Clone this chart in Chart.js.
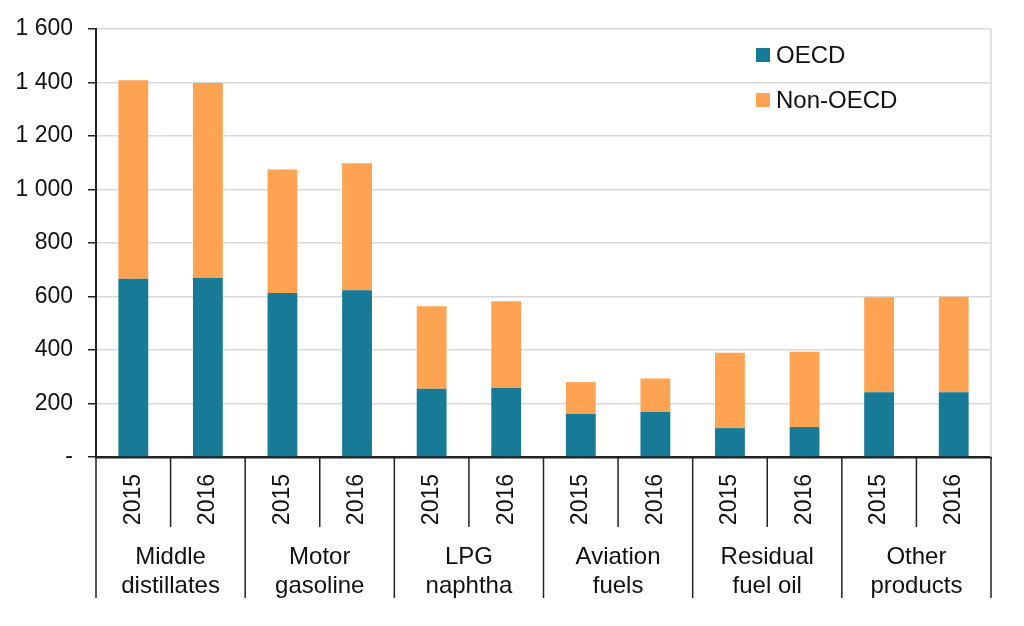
<!DOCTYPE html>
<html>
<head>
<meta charset="utf-8">
<script src="https://cdn.jsdelivr.net/npm/chart.js@4"></script>
<style>
  body { margin: 0; background: #fff; }
  canvas { display: block; }
</style>
</head>
<body>
<canvas id="demand" width="1024" height="626"></canvas>
<script>
const groups = [["Middle", "distillates"], ["Motor", "gasoline"], ["LPG", "naphtha"], ["Aviation", "fuels"], ["Residual", "fuel oil"], ["Other", "products"]];
const years = ["2015", "2016"];
const oecd = [666, 670, 613, 623, 255, 258, 162, 168, 108, 112, 242, 242];
const nonOecd = [742, 728, 462, 475, 309, 324, 118, 125, 282, 281, 355, 357];
const yTicks = [0, 200, 400, 600, 800, 1000, 1200, 1400, 1600];

const labels = [];
groups.forEach(g => years.forEach(y => labels.push(y)));

const FONT = "'Liberation Sans', Arial, sans-serif";

// separator lines, category names, grey right border and in-plot legend
const extras = {
  id: 'extras',
  afterDraw(chart) {
    const ctx = chart.ctx;
    const area = chart.chartArea;
    const x = chart.scales.x;
    ctx.save();
    ctx.strokeStyle = '#d9d9d9';
    ctx.lineWidth = 1.5;
    ctx.beginPath();
    ctx.moveTo(area.right, area.top);
    ctx.lineTo(area.right, area.bottom);
    ctx.stroke();

    ctx.strokeStyle = '#222';
    ctx.lineWidth = 1.5;
    for (let i = 0; i <= labels.length; i++) {
      let px;
      if (i === 0) px = area.left;
      else if (i === labels.length) px = area.right;
      else px = (x.getPixelForValue(i - 1) + x.getPixelForValue(i)) / 2;
      const end = i % 2 === 0 ? 598 : 527;
      ctx.beginPath();
      ctx.moveTo(px, area.bottom);
      ctx.lineTo(px, end);
      ctx.stroke();
    }

    ctx.fillStyle = '#111';
    ctx.font = '24px ' + FONT;
    ctx.textAlign = 'center';
    ctx.textBaseline = 'alphabetic';
    groups.forEach((g, i) => {
      const cx = (x.getPixelForValue(i * 2) + x.getPixelForValue(i * 2 + 1)) / 2;
      ctx.fillText(g[0], cx, 564);
      ctx.fillText(g[1], cx, 593);
    });

    ctx.textAlign = 'left';
    ctx.textBaseline = 'middle';
    chart.data.datasets.forEach((ds, i) => {
      const ly = 55 + i * 45;
      const lx = area.right - 235;
      ctx.fillStyle = ds.backgroundColor;
      ctx.fillRect(lx, ly - 7, 14, 14);
      ctx.fillStyle = '#111';
      ctx.fillText(ds.label, lx + 20, ly + 1);
    });
    ctx.restore();
  }
};

new Chart(document.getElementById('demand'), {
  type: 'bar',
  data: {
    labels: labels,
    datasets: [
      { label: 'OECD', data: oecd, backgroundColor: '#177a96' },
      { label: 'Non-OECD', data: nonOecd, backgroundColor: '#fda352' }
    ]
  },
  options: {
    responsive: false,
    animation: false,
    layout: { padding: { left: 0, right: 33, top: 29, bottom: 0 } },
    datasets: { bar: { categoryPercentage: 1, barPercentage: 0.4 } },
    plugins: { legend: { display: false }, tooltip: { enabled: false } },
    scales: {
      x: {
        stacked: true,
        grid: { display: false },
        border: { display: true, color: '#222', width: 2.5 },
        ticks: {
          minRotation: 90, maxRotation: 90, padding: 9, autoSkip: false,
          color: '#111', font: { family: FONT, size: 23 }
        },
        afterFit: s => { s.height = 169; }
      },
      y: {
        stacked: true,
        min: 0, max: 1600,
        afterBuildTicks: s => { s.ticks = yTicks.map(v => ({ value: v })); },
        grid: { color: '#d9d9d9', lineWidth: 1.5, tickColor: '#222', tickLength: 8 },
        border: { display: true, color: '#222', width: 2 },
        ticks: {
          padding: 15, color: '#111', font: { family: FONT, size: 23 },
          callback: v => v === 0 ? '-' : String(v).replace(/\B(?=(\d{3})+(?!\d))/g, ' ')
        },
        afterFit: s => { s.width = 96; }
      }
    }
  },
  plugins: [extras]
});
</script>
</body>
</html>
